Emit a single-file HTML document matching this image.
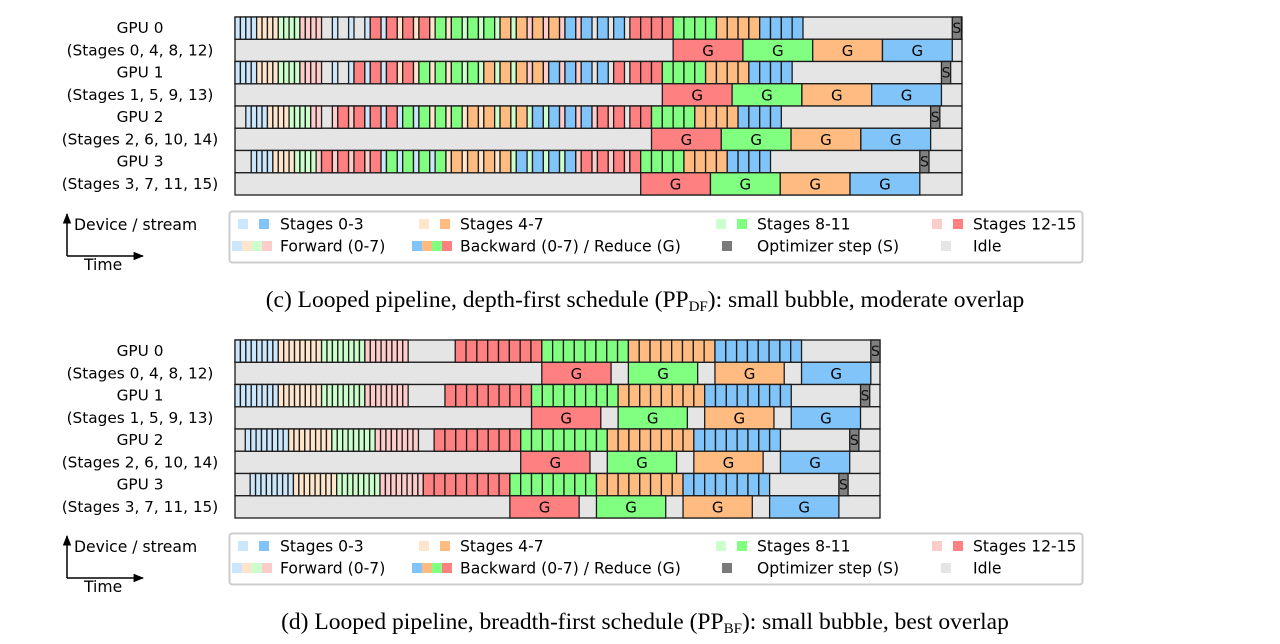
<!DOCTYPE html>
<html><head><meta charset="utf-8">
<style>
html,body{margin:0;padding:0;background:#fff;}
svg{display:block;}
text{font-family:"DejaVu Sans","Liberation Sans",sans-serif;}
.cap{font-family:"Liberation Serif","DejaVu Serif",serif;font-size:23.5px;}
</style></head>
<body>
<svg id="fig" width="1280" height="644" viewBox="0 0 1280 644" xmlns="http://www.w3.org/2000/svg">
<defs>
<marker id="ah" viewBox="0 0 10 10" refX="9" refY="5" markerWidth="7" markerHeight="7" orient="auto"><path d="M0,1 L10,5 L0,9 z" fill="#000"/></marker>
</defs>
<g id="chartTop"></g>
<g id="chartBot"></g>
<g id="legends"></g>
<text class="cap" x="645" y="307" text-anchor="middle">(c) Looped pipeline, depth-first schedule (PP<tspan font-size="15" dy="4">DF</tspan><tspan dy="-4">): small bubble, moderate overlap</tspan></text>
<text class="cap" x="645" y="629" text-anchor="middle">(d) Looped pipeline, breadth-first schedule (PP<tspan font-size="15" dy="4">BF</tspan><tspan dy="-4">): small bubble, best overlap</tspan></text>
</svg>
<script>
// ---- data ----
const gpuLabels = ["GPU 0","GPU 1","GPU 2","GPU 3"];
const stageLabels = ["(Stages 0, 4, 8, 12)","(Stages 1, 5, 9, 13)","(Stages 2, 6, 10, 14)","(Stages 3, 7, 11, 15)"];
// depth-first (top)
const topStartIdle = [0,0,2,3];
const topWarmup = [16,16,14,13];
const topIdleGroups = [3,2,1,0];
const topTrailIdle = [3,3,1,0];
const topFwdOrder = [0,1,2,3,0,1,2,3];   // each repeated 4x
const topBwdOrder = [3,2,1,0,3,2,1,0];   // each repeated 4x
// breadth-first (bottom)
const botStartIdle = [0,0,1.9,2.8];
const botBwdStart = [40.7,38.8,36.8,34.8];
const botFwdOrder = [0,1,2,3];           // each repeated 8x
const botBwdOrder = [3,2,1,0];           // each repeated 8x
const reduceLen = [12.9, 12.8];
const totalUnits = [134.4, 119.2];

const strong = ["#80c4fa","#ffbb80","#80ff80","#ff8080"];
const pale = ["#cce6fb","#ffe5cc","#ccffcc","#ffcccc"];
const IDLE="#e5e5e5", SCOL="#808080", STK="#1c1c1c";
const NS="http://www.w3.org/2000/svg";

function el(tag, attrs, parent){const e=document.createElementNS(NS,tag);for(const k in attrs)e.setAttribute(k,attrs[k]);parent.appendChild(e);return e;}

function buildTop(k){
  const fw=[],bw=[];
  topFwdOrder.forEach(c=>{for(let i=0;i<4;i++)fw.push(c);});
  topBwdOrder.forEach(c=>{for(let i=0;i<4;i++)bw.push(c);});
  const segs=[];let t=topStartIdle[k],fi=0,bi=0;
  for(let i=0;i<topWarmup[k];i++){segs.push({k:'f',c:fw[fi++],t:t,w:1});t+=1;}
  for(let g=0;g<topIdleGroups[k];g++){t+=2;segs.push({k:'f',c:fw[fi++],t:t,w:1});t+=1;}
  while(fi<fw.length){segs.push({k:'b',c:bw[bi++],t:t,w:2});t+=2;segs.push({k:'f',c:fw[fi++],t:t,w:1});t+=1;}
  let n=0;
  while(bi<bw.length){segs.push({k:'b',c:bw[bi++],t:t,w:2});t+=2;if(n<topTrailIdle[k]){t+=1;n++;}}
  return segs;
}
function buildBot(k){
  const segs=[];let t=botStartIdle[k];
  botFwdOrder.forEach(c=>{for(let i=0;i<8;i++){segs.push({k:'f',c:c,t:t,w:1});t+=1;}});
  t=botBwdStart[k];
  botBwdOrder.forEach(c=>{for(let i=0;i<8;i++){segs.push({k:'b',c:c,t:t,w:2});t+=2;}});
  return segs;
}

function drawChart(gid, x0, x1, y0, builder, ci){
  const g=document.getElementById(gid);
  const U=(x1-x0)/totalUnits[ci];
  const RH=22.25;
  const X=t=>x0+t*U;
  for(let k=0;k<4;k++){
    const yc=y0+2*k*RH, yr=yc+RH;
    const l1=el('text',{x:140,y:yc+RH/2+5,'text-anchor':'middle','font-size':15.3},g);
    l1.textContent=gpuLabels[k];
    
    
    const l2=el('text',{x:140,y:yr+RH/2+5,'text-anchor':'middle','font-size':15.3},g);
    l2.textContent=stageLabels[k];
    
    
    [yc,yr].forEach(y=>{
      const r=el('rect',{x:x0,y:y,width:x1-x0,height:RH,fill:IDLE,stroke:STK,'stroke-width':1.3},g);
      
      
    });
    const segs=builder(k);
    let endC=0;const lastB=[0,0,0,0];
    segs.forEach(s=>{
      const r=el('rect',{x:X(s.t),y:yc,width:s.w*U,height:RH,fill:s.k==='f'?pale[s.c]:strong[s.c],stroke:STK,'stroke-width':1.3},g);
      
      
      endC=Math.max(endC,s.t+s.w);
      if(s.k==='b')lastB[s.c]=Math.max(lastB[s.c],s.t+s.w);
    });
    let gt=0;
    [3,2,1,0].forEach(c=>{
      const st=Math.max(lastB[c],gt);
      const r=el('rect',{x:X(st),y:yr,width:reduceLen[ci]*U,height:RH,fill:strong[c],stroke:STK,'stroke-width':1.3},g);
      
      
      const tx=el('text',{x:X(st+reduceLen[ci]/2),y:yr+RH/2+5.5,'text-anchor':'middle','font-size':15},g);
      tx.textContent='G';
      
      
      gt=st+reduceLen[ci];
    });
    const sT=Math.max(gt,endC);
    const sr=el('rect',{x:X(sT),y:yc,width:1.7*U,height:RH,fill:SCOL,stroke:STK,'stroke-width':1.3},g);
    
    
    const st=el('text',{x:X(sT+0.85),y:yc+RH/2+5,'text-anchor':'middle','font-size':14,fill:'#111'},g);
    st.textContent='S';
    
    
  }
}
drawChart('chartTop',235,962,17,buildTop,0);
drawChart('chartBot',235,880,340,buildBot,1);

function drawLegend(dy){
  const g=document.getElementById('legends');
  const lg=el('g',{},g);
  
  
  el('line',{x1:67,y1:256+dy,x2:67,y2:214+dy,stroke:'#000','stroke-width':1.5,'marker-end':'url(#ah)'},lg);
  el('line',{x1:67,y1:256+dy,x2:143,y2:256+dy,stroke:'#000','stroke-width':1.5,'marker-end':'url(#ah)'},lg);
  const t1=el('text',{x:74,y:230+dy,'font-size':15.6},lg);t1.textContent='Device / stream';
  
  
  const t2=el('text',{x:84,y:270+dy,'font-size':15.6},lg);t2.textContent='Time';
  
  
  el('rect',{x:229.5,y:211.5+dy,width:853,height:51,rx:3,fill:'#fff',stroke:'#ccc','stroke-width':2},lg);
  const r1=224+dy, r2=246+dy;
  const sq=(x,y,c)=>el('rect',{x:x,y:y-5,width:10,height:10,fill:c},lg);
  const txt=(x,y,s)=>{const t=el('text',{x:x,y:y+5.5,'font-size':15.6},lg);t.textContent=s;
    
    };
  const cols=[[238,259,280],[419,440,460],[716,737,757],[932,953,973]];
  ["Stages 0-3","Stages 4-7","Stages 8-11","Stages 12-15"].forEach((s,i)=>{
    sq(cols[i][0],r1,pale[i]);sq(cols[i][1],r1,strong[i]);txt(cols[i][2],r1,s);
  });
  for(let i=0;i<4;i++){el('rect',{x:232+i*10,y:r2-5,width:10,height:10,fill:pale[i]},lg);}
  txt(280,r2,'Forward (0-7)');
  for(let i=0;i<4;i++){el('rect',{x:412+i*10,y:r2-5,width:10,height:10,fill:strong[i]},lg);}
  txt(460,r2,'Backward (0-7) / Reduce (G)');
  sq(722,r2,'#7a7a7a');txt(757,r2,'Optimizer step (S)');
  sq(941,r2,IDLE);txt(973,r2,'Idle');
}
drawLegend(0);
drawLegend(322);
</script>
</body></html>
